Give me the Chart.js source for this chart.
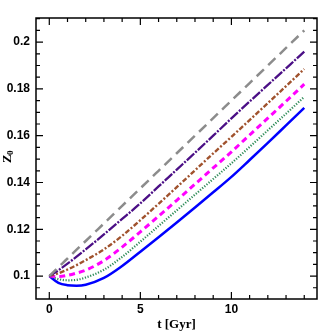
<!DOCTYPE html>
<html>
<head>
<meta charset="utf-8">
<script src="https://cdn.jsdelivr.net/npm/chart.js@4"></script>
<style>
  html, body { margin: 0; padding: 0; background: #fff; }
  #wrap { width: 335px; height: 335px; }
</style>
</head>
<body>
<div id="wrap"><canvas id="zChart" width="335" height="335"></canvas></div>
<script>
// time in Gyr
const tGyr = [0, 0.5, 1, 1.5, 2, 3, 4, 5, 6, 7, 8, 9, 10, 11, 12, 13, 14];

// Z0 for each model
const zGray    = [0.1, 0.1038, 0.1075, 0.1113, 0.115, 0.1225, 0.13, 0.1375, 0.145, 0.1525, 0.16, 0.1675, 0.175, 0.1825, 0.19, 0.1975, 0.205];
const zPurple  = [0.1, 0.1025, 0.1053, 0.1083, 0.1114, 0.1178, 0.1244, 0.1311, 0.1383, 0.1455, 0.1527, 0.16, 0.1674, 0.1746, 0.1817, 0.1888, 0.1959];
const zBrown   = [0.1, 0.1012, 0.1028, 0.1047, 0.1068, 0.1114, 0.1172, 0.1239, 0.1309, 0.138, 0.1452, 0.1524, 0.1595, 0.1667, 0.1739, 0.1812, 0.1885];
const zMagenta = [0.1, 0.0998, 0.1003, 0.1013, 0.1025, 0.1066, 0.1124, 0.1189, 0.1256, 0.1324, 0.1393, 0.1462, 0.1531, 0.1603, 0.1675, 0.1747, 0.182];
const zGreen   = [0.1, 0.0987, 0.0982, 0.0984, 0.0994, 0.1027, 0.1082, 0.1147, 0.1214, 0.1281, 0.1348, 0.1415, 0.1482, 0.1552, 0.1623, 0.1694, 0.1766];
const zBlue    = [0.1, 0.0971, 0.0961, 0.0959, 0.0963, 0.0992, 0.1043, 0.1104, 0.1166, 0.1229, 0.1293, 0.1358, 0.1424, 0.1496, 0.1569, 0.1644, 0.1719];

// axis ticks
const xMajor = [0, 5, 10];
const xMinor = [1, 2, 3, 4, 6, 7, 8, 9, 11, 12, 13, 14];
const yMajor = [0.1, 0.12, 0.14, 0.16, 0.18, 0.2];
const yMinor = [0.095, 0.105, 0.11, 0.115, 0.125, 0.13, 0.135, 0.145, 0.15, 0.155, 0.165, 0.17, 0.175, 0.185, 0.19, 0.195, 0.205, 0.21];
const xTickLabels = ['0', '5', '10'];
const yTickLabels = ['0.1', '0.12', '0.14', '0.16', '0.18', '0.2'];
const xTitle = 't [Gyr]';

function pts(ys) {
  return tGyr.map((t, i) => ({ x: t, y: ys[i] }));
}

function line(ys, color, width, dash) {
  return {
    data: pts(ys),
    borderColor: color,
    borderWidth: width,
    borderDash: dash,
    pointRadius: 0,
    fill: false,
    cubicInterpolationMode: 'monotone'
  };
}

// frame, inward ticks on all four sides, labels
const frameTicks = {
  id: 'frameTicks',
  afterDatasetsDraw(chart) {
    const c = chart.ctx;
    const a = chart.chartArea;
    const xs = chart.scales.x, ys = chart.scales.y;
    c.save();
    c.strokeStyle = '#000';
    c.lineWidth = 1.5;
    c.strokeRect(a.left, a.top, a.right - a.left, a.bottom - a.top);

    c.lineWidth = 1.2;
    c.beginPath();
    const xt = (v, len) => {
      const px = xs.getPixelForValue(v);
      c.moveTo(px, a.bottom); c.lineTo(px, a.bottom - len);
      c.moveTo(px, a.top); c.lineTo(px, a.top + len);
    };
    const yt = (v, len) => {
      const py = ys.getPixelForValue(v);
      c.moveTo(a.left, py); c.lineTo(a.left + len, py);
      c.moveTo(a.right, py); c.lineTo(a.right - len, py);
    };
    xMajor.forEach(v => xt(v, 7));
    xMinor.forEach(v => xt(v, 4));
    yMajor.forEach(v => yt(v, 7));
    yMinor.forEach(v => yt(v, 4));
    c.stroke();

    c.fillStyle = '#000';
    c.font = 'bold 12px "Liberation Sans", Arial, sans-serif';
    c.textAlign = 'center';
    c.textBaseline = 'middle';
    xMajor.forEach((v, i) => c.fillText(xTickLabels[i], xs.getPixelForValue(v), 310));
    c.textAlign = 'right';
    yMajor.forEach((v, i) => c.fillText(yTickLabels[i], 30, ys.getPixelForValue(v)));

    c.font = 'bold 13px "Liberation Serif", serif';
    c.textAlign = 'center';
    c.fillText(xTitle, (a.left + a.right) / 2, 325);

    // y title: Z with subscript 0, rotated
    c.translate(8, 156);
    c.rotate(-Math.PI / 2);
    c.textAlign = 'left';
    c.font = 'bold 13px "Liberation Serif", serif';
    c.fillText('Z', -7, 0);
    c.font = 'bold 9px "Liberation Serif", serif';
    c.fillText('0', 1, 3);
    c.restore();
  }
};

new Chart(document.getElementById('zChart').getContext('2d'), {
  type: 'line',
  data: {
    datasets: [
      line(zGray, '#8c8c8c', 2.5, [10, 6]),
      line(zPurple, '#4b0f86', 2.3, [10, 1.5, 2, 1.5]),
      line(zBrown, '#a0522d', 2.4, [5, 2, 2, 2]),
      line(zMagenta, '#ff00ff', 3, [6, 4]),
      line(zGreen, '#2e8b57', 2.2, [1.2, 1.6]),
      line(zBlue, '#0000ff', 2.5, [])
    ]
  },
  options: {
    responsive: false,
    animation: false,
    events: [],
    layout: { padding: { left: 36, right: 18, top: 18, bottom: 36 } },
    plugins: { legend: { display: false }, tooltip: { enabled: false } },
    scales: {
      x: { type: 'linear', min: -0.73, max: 14.7, display: false },
      y: { type: 'linear', min: 0.0902, max: 0.2103, display: false }
    }
  },
  plugins: [frameTicks]
});
</script>
</body>
</html>
